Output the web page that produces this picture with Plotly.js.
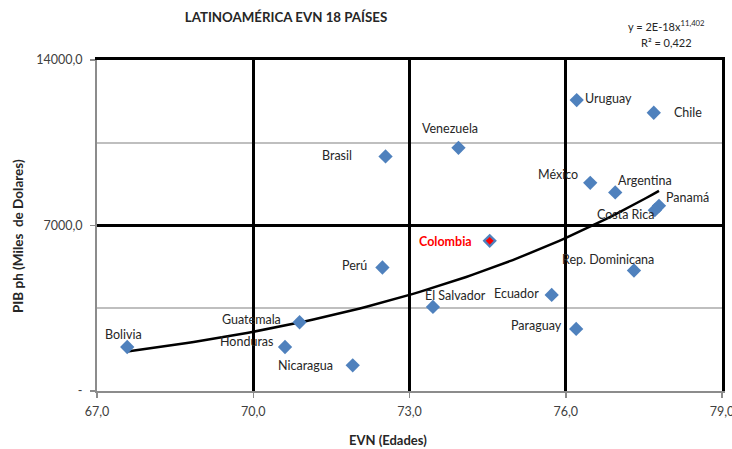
<!DOCTYPE html>
<html>
<head>
<meta charset="utf-8">
<script src="https://cdn.plot.ly/plotly-3.0.1.min.js"></script>
<style>html,body{margin:0;padding:0;background:#fff;}#chart{width:732px;height:449px;}</style>
</head>
<body>
<div id="chart"></div>
<script>
// ---- data ----
const countries = ["Bolivia","Guatemala","Honduras","Nicaragua","Perú","Brasil","El Salvador","Venezuela","Colombia","Ecuador","Paraguay","Uruguay","México","Argentina","Rep. Dominicana","Chile","Panamá","Costa Rica"];
const evn = [67.58,70.89,70.61,71.91,72.48,72.54,73.45,73.94,74.54,75.73,76.20,76.21,76.47,76.95,77.31,77.69,77.79,77.71];
const pib = [1862,2908,1862,1088,5224,9922,3556,10286,6350,4064,2624,12305,8805,8398,5097,11768,7831,7649];
const xTickVals = [67,70,73,76,79];
const xTickText = ["67,0","70,0","73,0","76,0","79,0"];
const yTickVals = [0,7000,14000];
const yTickText = ["-","7000,0","14000,0"];
const highlight = "Colombia";
const chartTitle = "LATINOAMÉRICA EVN 18 PAÍSES";
const xTitle = "EVN (Edades)";
const yTitle = "PIB ph (Miles\u00a0 de Dolares)";
const eqText = "y = 2E-18x<sup>11,402</sup>";
const r2Text = "R² = 0,422";

// ---- label placement (screen px offsets from the marker) ----
const labelPlace = {
  "Bolivia":        {anchor:"center", dx:-4,  dy:-12},
  "Guatemala":      {anchor:"right",  dx:-17, dy:-3},
  "Honduras":       {anchor:"right",  dx:-10, dy:-5},
  "Nicaragua":      {anchor:"right",  dx:-18, dy:0},
  "Perú":           {anchor:"right",  dx:-13, dy:-2},
  "Brasil":         {anchor:"right",  dx:-32, dy:-1},
  "Venezuela":      {anchor:"center", dx:-8,  dy:-19},
  "Colombia":       {anchor:"right",  dx:-16, dy:1},
  "El Salvador":    {anchor:"left",   dx:-10, dy:-11},
  "Ecuador":        {anchor:"right",  dx:-11, dy:-1},
  "Paraguay":       {anchor:"right",  dx:-12, dy:-3},
  "Uruguay":        {anchor:"left",   dx:6,   dy:-2},
  "México":         {anchor:"right",  dx:-10, dy:-8},
  "Argentina":      {anchor:"left",   dx:1,   dy:-12},
  "Rep. Dominicana":{anchor:"right",  dx:22,  dy:-11},
  "Chile":          {anchor:"left",   dx:18,  dy:0},
  "Panamá":         {anchor:"left",   dx:5,   dy:-8},
  "Costa Rica":     {anchor:"right",  dx:2,   dy:4}
};

// ---- power trendline fitted from the data ----
const lx = evn.map(Math.log), ly = pib.map(Math.log);
const n = lx.length;
const mx = lx.reduce((s,v)=>s+v,0)/n, my = ly.reduce((s,v)=>s+v,0)/n;
let sxy=0, sxx=0;
for (let i=0;i<n;i++){ sxy+=(lx[i]-mx)*(ly[i]-my); sxx+=(lx[i]-mx)*(lx[i]-mx); }
const bPow = sxy/sxx, aPow = Math.exp(my - bPow*mx);
const xmin = Math.min(...evn), xmax = Math.max(...evn);
const trendX = [], trendY = [];
for (let k=0;k<=80;k++){ const xv = xmin + (xmax-xmin)*k/80; trendX.push(xv); trendY.push(aPow*Math.pow(xv,bPow)); }

const font = "Lato, 'Open Sans', sans-serif";
const txt = "#262626";
const hi = countries.indexOf(highlight);

const traces = [
  {x: trendX, y: trendY, type:"scatter", mode:"lines", line:{color:"#000", width:2.5}, hoverinfo:"skip", showlegend:false},
  {x: evn, y: pib, text: countries, type:"scatter", mode:"markers",
   marker:{symbol:"diamond", size:11, color:"#4F81BD", line:{width:0}}, showlegend:false},
  {x: [evn[hi]], y: [pib[hi]], type:"scatter", mode:"markers",
   marker:{symbol:"diamond", size:6, color:"#FF0000", line:{width:0}}, showlegend:false, hoverinfo:"skip"},
  // carrier for the frame axes (top / right borders)
  {x: [null], y: [null], type:"scatter", mode:"markers", xaxis:"x2", yaxis:"y2", showlegend:false, hoverinfo:"skip"}
];

const annotations = countries.map((c,i)=>{
  const p = labelPlace[c];
  const isHi = c === highlight;
  return {x: evn[i], y: pib[i], xref:"x", yref:"y", text: isHi ? "<b>"+c+"</b>" : c, showarrow:false,
    xanchor: p.anchor, yanchor:"middle", xshift: p.dx, yshift: -p.dy,
    font:{family:font, size:12.5, color: isHi ? "#FF0000" : txt}};
});
annotations.push({xref:"paper", yref:"paper", x:(666-97)/625, y:1+(60-25)/331, text:eqText, showarrow:false,
  xanchor:"center", yanchor:"middle", font:{family:font, size:11, color:txt}});
annotations.push({xref:"paper", yref:"paper", x:(666-97)/625, y:1+(60-42)/331, text:r2Text, showarrow:false,
  xanchor:"center", yanchor:"middle", font:{family:font, size:11, color:txt}});
annotations.push({xref:"paper", yref:"paper", x:(388-97)/625, y:-(440-391)/331, text:"<b>"+xTitle+"</b>", showarrow:false,
  xanchor:"center", yanchor:"middle", font:{family:font, size:13, color:txt}});
annotations.push({xref:"paper", yref:"paper", x:-(97-18)/625, y:(391-236)/331, text:"<b>"+yTitle+"</b>", showarrow:false,
  textangle:-90, xanchor:"center", yanchor:"middle", font:{family:font, size:13.5, color:txt}});

const axisCommon = {zeroline:false, showline:true, linecolor:"#8c8c8c", linewidth:2, ticks:"outside",
  tickcolor:"#8c8c8c", ticklen:5, tickwidth:1.5, fixedrange:true, tickfont:{family:font, size:12.5, color:"#404040"}};

const layout = {
  width:732, height:449,
  margin:{l:97, r:10, t:60, b:58},
  paper_bgcolor:"#fff", plot_bgcolor:"#fff",
  font:{family:font, color:"#404040"},
  title:{text:"<b>"+chartTitle+"</b>", xref:"container", x:286/732, xanchor:"center", yref:"container", y:1-17/449, yanchor:"middle",
    font:{family:font, size:13.3, color:txt}},
  xaxis:Object.assign({}, axisCommon, {range:[67,79], tickvals:xTickVals, ticktext:xTickText,
    showgrid:true, gridcolor:"#000", gridwidth:3, ticklabeloverflow:"allow", ticklabelstandoff:3}),
  yaxis:Object.assign({}, axisCommon, {range:[0,14000], tickvals:yTickVals, ticktext:yTickText,
    showgrid:true, gridcolor:"#000", gridwidth:3, ticklabelstandoff:5,
    minor:{dtick:3500, tick0:0, showgrid:true, gridcolor:"#bfbfbf", gridwidth:2, ticks:""}}),
  xaxis2:{overlaying:"x", side:"top", anchor:"y2", range:[67,79], showline:true, linecolor:"#000", linewidth:3,
    showgrid:false, zeroline:false, showticklabels:false, ticks:"", fixedrange:true},
  yaxis2:{overlaying:"y", side:"right", anchor:"x2", range:[0,14000], showline:true, linecolor:"#000", linewidth:3,
    showgrid:false, zeroline:false, showticklabels:false, ticks:"", fixedrange:true},
  annotations: annotations,
  showlegend:false
};

Plotly.newPlot("chart", traces, layout, {staticPlot:true, displayModeBar:false});
</script>
</body>
</html>
